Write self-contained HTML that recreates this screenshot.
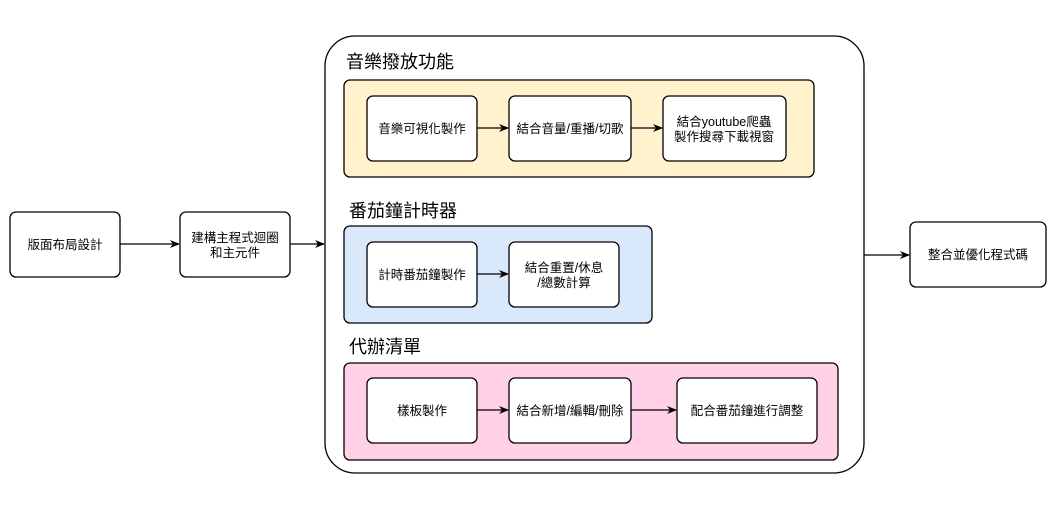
<!DOCTYPE html>
<html><head><meta charset="utf-8"><style>
html,body{margin:0;padding:0;background:#fff;width:1055px;height:509px;overflow:hidden}
svg text{font-family:"Liberation Sans","Noto Sans CJK TC",sans-serif;fill:#000}
</style></head><body>
<svg width="1055" height="509" viewBox="0 0 1055 509" xmlns="http://www.w3.org/2000/svg">
<defs><marker id="a" markerWidth="10" markerHeight="10" refX="9" refY="5" orient="auto" markerUnits="userSpaceOnUse"><path d="M0,1 L10,5 L0,9 L3,5 z" fill="#000"/></marker></defs>
<g stroke="#000" stroke-width="1.3">
<rect x="325" y="36" width="539" height="437" rx="30" fill="#fff"/>
<rect x="344" y="80" width="470" height="97" rx="6" fill="#fff2cc"/>
<rect x="344" y="226" width="308" height="97" rx="6" fill="#dae8fc"/>
<rect x="344" y="363" width="494" height="97" rx="6" fill="#ffd0e6"/>
<g fill="#fff">
<rect x="10" y="212" width="110" height="65" rx="6"/>
<rect x="180" y="212" width="110" height="65" rx="6"/>
<rect x="910" y="222" width="136" height="65" rx="6"/>
<rect x="367" y="96" width="110" height="65" rx="6"/>
<rect x="509" y="96" width="122" height="65" rx="6"/>
<rect x="663" y="96" width="123" height="65" rx="6"/>
<rect x="367" y="242" width="110" height="65" rx="6"/>
<rect x="509" y="242" width="110" height="65" rx="6"/>
<rect x="367" y="378" width="110" height="65" rx="6"/>
<rect x="509" y="378" width="122" height="65" rx="6"/>
<rect x="677" y="378" width="140" height="65" rx="6"/>
</g>
<g marker-end="url(#a)">
<line x1="120" y1="244" x2="179" y2="244"/>
<line x1="290" y1="244" x2="324" y2="244"/>
<line x1="864" y1="255" x2="909" y2="255"/>
<line x1="477" y1="128" x2="508" y2="128"/>
<line x1="631" y1="128" x2="662" y2="128"/>
<line x1="477" y1="274" x2="508" y2="274"/>
<line x1="477" y1="410" x2="508" y2="410"/>
<line x1="631" y1="410" x2="676" y2="410"/>
</g></g>
<g font-size="12.5" text-anchor="middle">
<text x="65" y="249">版面布局設計</text>
<text x="235" y="242">建構主程式迴圈</text><text x="235" y="257">和主元件</text>
<text x="978" y="259">整合並優化程式碼</text>
<text x="422" y="133">音樂可視化製作</text>
<text x="570" y="133">結合音量/重播/切歌</text>
<text x="724" y="126">結合youtube爬蟲</text><text x="724" y="141">製作搜尋下載視窗</text>
<text x="422" y="279">計時番茄鐘製作</text>
<text x="564" y="272">結合重置/休息</text><text x="564" y="287">/總數計算</text>
<text x="422" y="415">樣板製作</text>
<text x="570" y="415">結合新增/編輯/刪除</text>
<text x="747" y="415">配合番茄鐘進行調整</text>
</g>
<g font-size="18">
<text x="346" y="68">音樂撥放功能</text>
<text x="349" y="217">番茄鐘計時器</text>
<text x="349" y="353">代辦清單</text>
</g>
</svg>
</body></html>
